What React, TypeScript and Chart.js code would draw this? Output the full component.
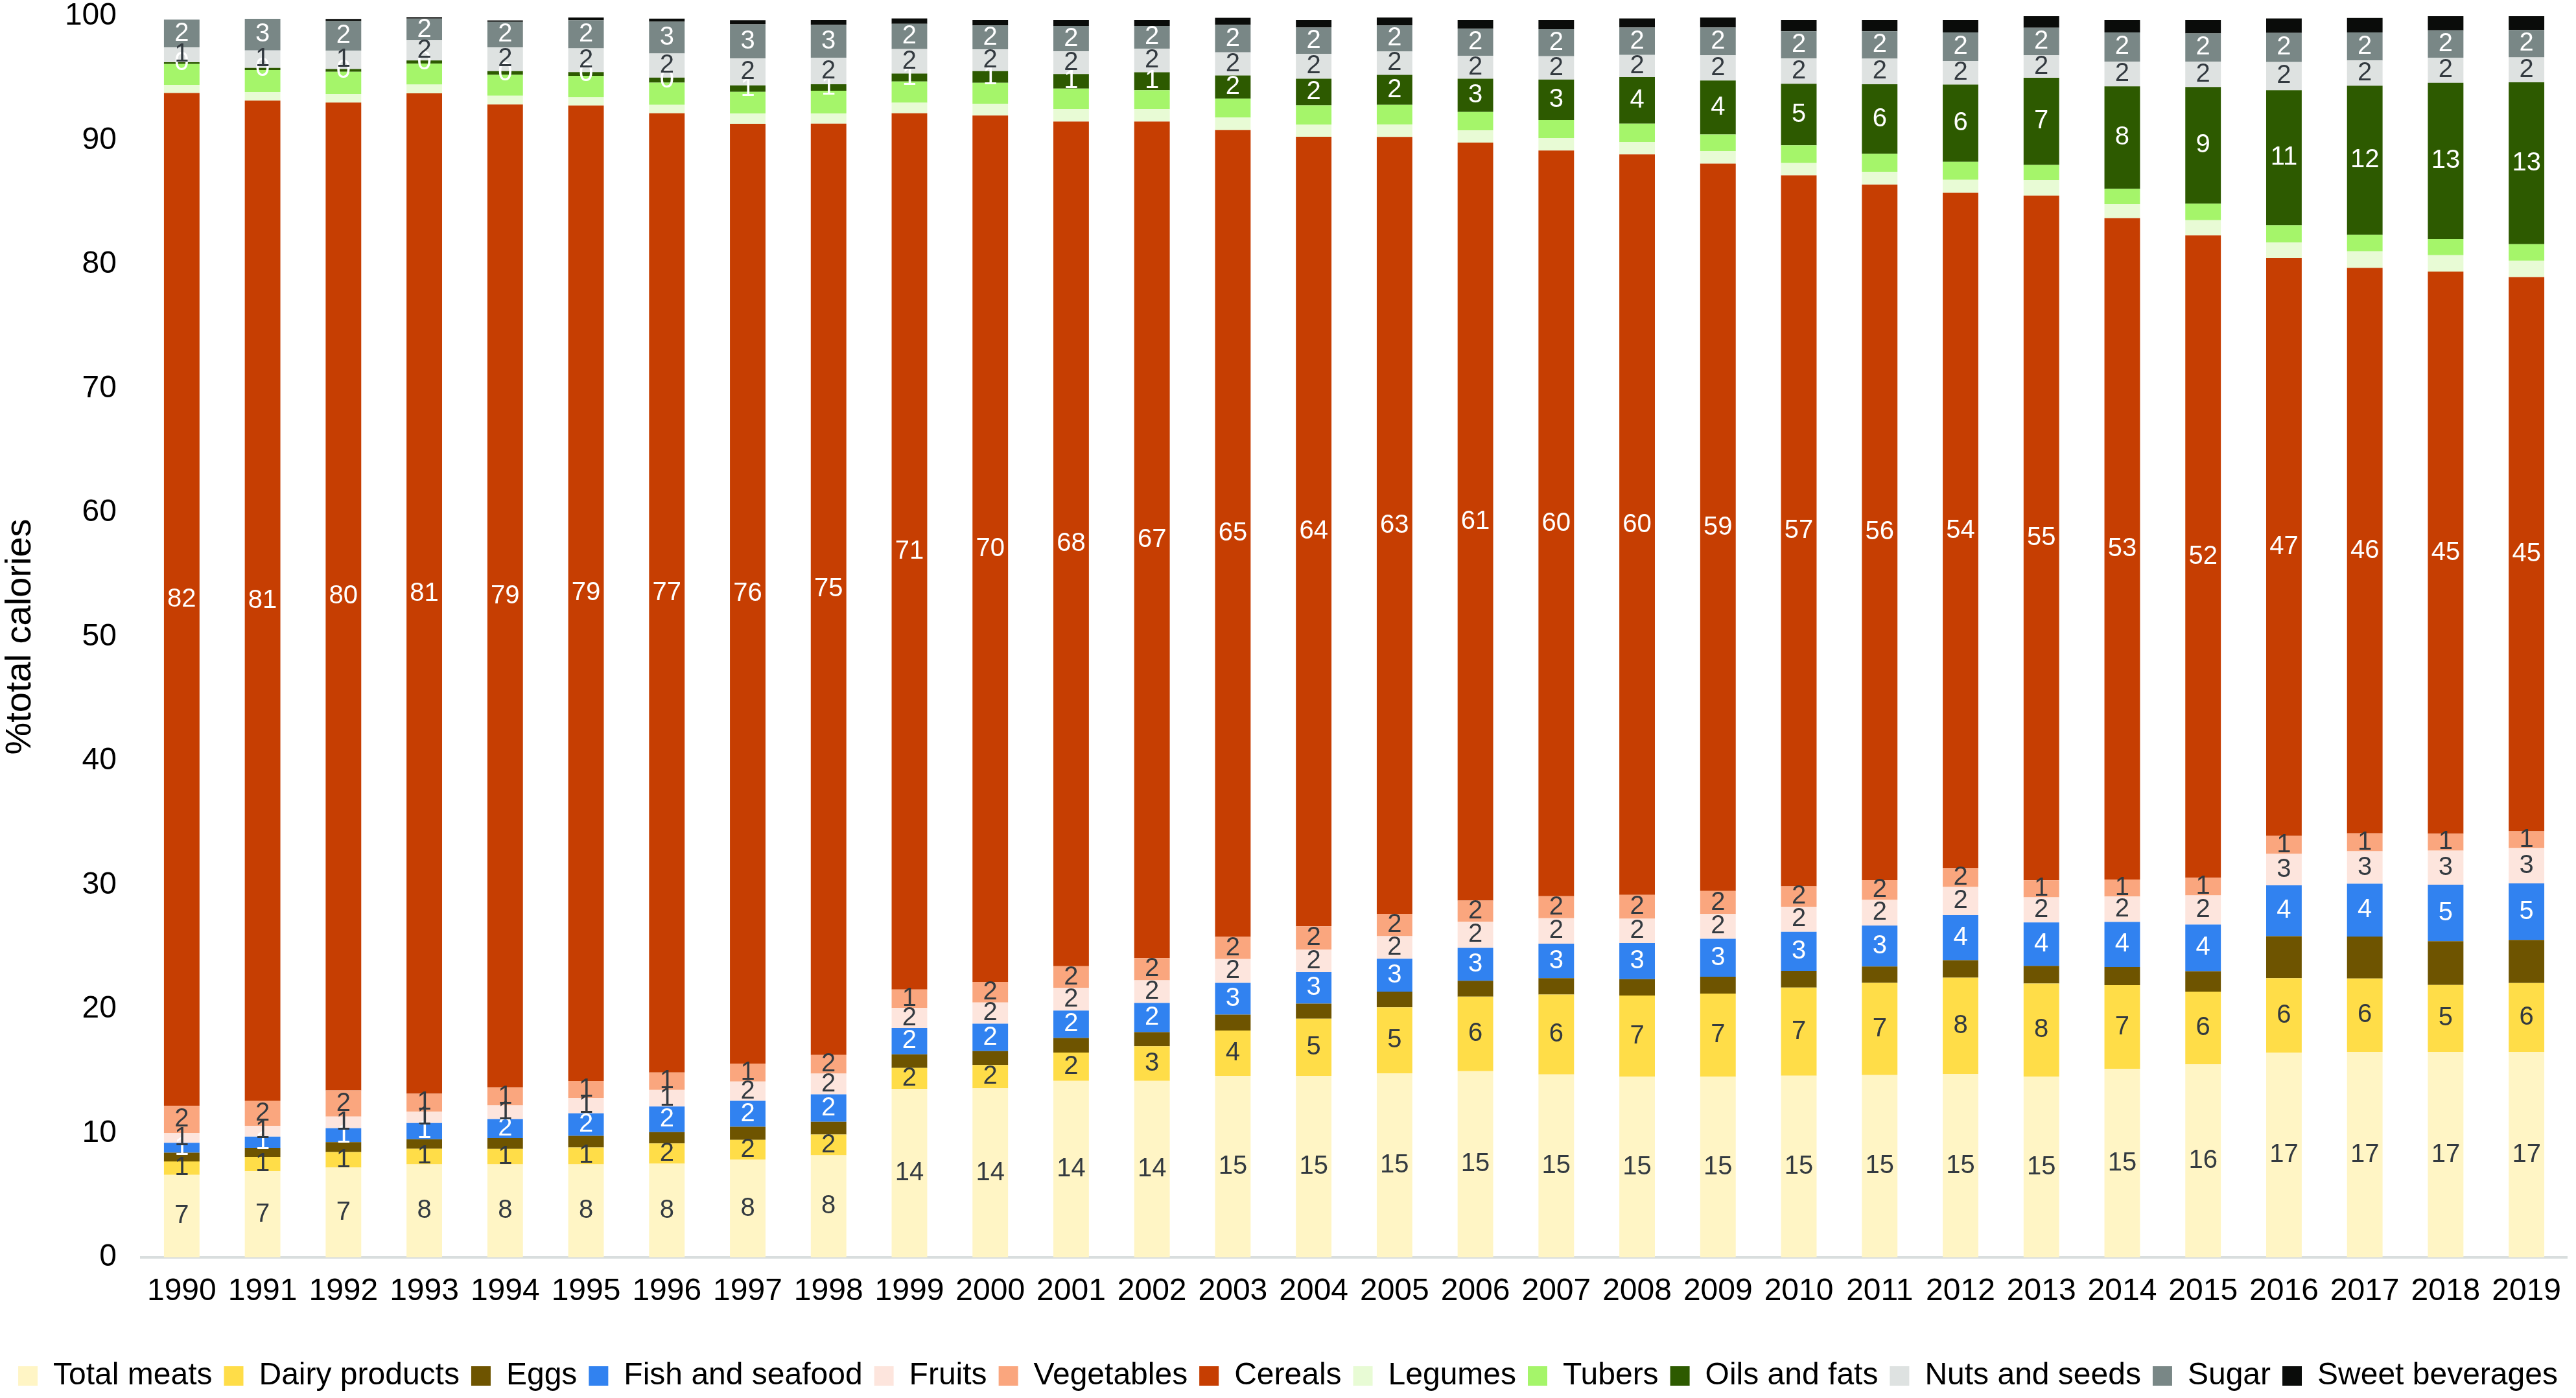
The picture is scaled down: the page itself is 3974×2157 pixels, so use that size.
import React, { useEffect, useRef } from "react";
import { Chart, registerables } from "chart.js";

Chart.register(...registerables);

const FONT = '"Liberation Sans", Arial, Helvetica, sans-serif';

const years = [
  "1990", "1991", "1992", "1993", "1994", "1995", "1996", "1997", "1998", "1999",
  "2000", "2001", "2002", "2003", "2004", "2005", "2006", "2007", "2008", "2009",
  "2010", "2011", "2012", "2013", "2014", "2015", "2016", "2017", "2018", "2019",
];

const seriesNames = [
  "Total meats", "Dairy products", "Eggs", "Fish and seafood", "Fruits", "Vegetables",
  "Cereals", "Legumes", "Tubers", "Oils and fats", "Nuts and seeds", "Sugar", "Sweet beverages",
];

const totalMeats = [6.65, 6.93, 7.23, 7.5, 7.5, 7.5, 7.55, 7.87, 8.22, 13.58, 13.61, 14.22, 14.22, 14.62, 14.62, 14.83, 15.0, 14.74, 14.55, 14.55, 14.64, 14.69, 14.78, 14.55, 15.19, 15.55, 16.5, 16.55, 16.55, 16.55];
const dairyProducts = [1.08, 1.17, 1.25, 1.25, 1.24, 1.35, 1.63, 1.59, 1.67, 1.68, 1.88, 2.28, 2.79, 3.66, 4.61, 5.31, 6.01, 6.44, 6.55, 6.7, 7.1, 7.42, 7.75, 7.51, 6.74, 5.86, 5.99, 5.92, 5.4, 5.55];
const eggs = [0.7, 0.73, 0.8, 0.77, 0.87, 0.94, 0.91, 1.06, 1.04, 1.1, 1.13, 1.17, 1.14, 1.28, 1.22, 1.27, 1.27, 1.31, 1.31, 1.36, 1.34, 1.32, 1.41, 1.43, 1.46, 1.65, 3.39, 3.38, 3.52, 3.48];
const fishSeafood = [0.8, 0.9, 1.12, 1.3, 1.53, 1.81, 2.07, 2.09, 2.2, 2.13, 2.21, 2.21, 2.35, 2.55, 2.53, 2.65, 2.66, 2.78, 2.91, 3.05, 3.15, 3.31, 3.63, 3.5, 3.63, 3.76, 4.09, 4.25, 4.55, 4.55];
const fruits = [0.78, 0.87, 0.94, 0.92, 1.1, 1.25, 1.32, 1.56, 1.67, 1.6, 1.71, 1.83, 1.83, 1.92, 1.82, 1.82, 2.11, 2.06, 1.96, 2.0, 2.02, 2.06, 2.27, 2.02, 2.05, 2.34, 2.54, 2.62, 2.75, 2.84];
const vegetables = [2.2, 2.0, 2.1, 1.45, 1.45, 1.36, 1.41, 1.45, 1.51, 1.49, 1.65, 1.75, 1.78, 1.79, 1.87, 1.8, 1.7, 1.77, 1.92, 1.86, 1.64, 1.59, 1.52, 1.37, 1.37, 1.43, 1.45, 1.45, 1.37, 1.37];
const cereals = [81.6, 80.6, 79.6, 80.6, 79.2, 78.6, 77.29, 75.71, 75.03, 70.6, 69.81, 68.05, 67.4, 65.0, 63.62, 62.6, 61.07, 60.08, 59.67, 58.6, 57.29, 56.04, 54.41, 55.17, 53.29, 51.75, 46.56, 45.55, 45.29, 44.64];
const legumes = [0.65, 0.69, 0.7, 0.7, 0.7, 0.66, 0.68, 0.83, 0.83, 0.85, 0.95, 1.01, 1.01, 1.01, 0.96, 1.0, 0.99, 0.99, 0.99, 1.01, 0.99, 1.04, 1.04, 1.22, 1.13, 1.22, 1.25, 1.34, 1.31, 1.31];
const tubers = [1.69, 1.78, 1.78, 1.69, 1.68, 1.72, 1.79, 1.74, 1.83, 1.71, 1.69, 1.65, 1.51, 1.53, 1.57, 1.58, 1.48, 1.48, 1.48, 1.34, 1.43, 1.45, 1.45, 1.25, 1.22, 1.34, 1.39, 1.33, 1.3, 1.34];
const oilsFats = [0.14, 0.17, 0.22, 0.26, 0.3, 0.31, 0.4, 0.52, 0.52, 0.64, 0.93, 1.17, 1.45, 1.86, 2.14, 2.42, 2.67, 3.25, 3.75, 4.35, 4.96, 5.6, 6.23, 7.02, 8.27, 9.4, 10.88, 12.01, 12.59, 13.05];
const nutsSeeds = [1.21, 1.4, 1.48, 1.62, 1.92, 1.92, 1.95, 2.18, 2.13, 1.97, 1.77, 1.83, 1.91, 1.87, 2.0, 1.88, 1.86, 1.88, 1.79, 2.04, 2.05, 2.06, 1.91, 1.82, 2.0, 2.05, 2.27, 2.03, 2.03, 2.0];
const sugar = [2.23, 2.55, 2.39, 1.74, 2.05, 2.26, 2.55, 2.75, 2.66, 2.04, 1.92, 2.05, 1.83, 2.22, 2.12, 2.09, 2.17, 2.18, 2.21, 2.22, 2.18, 2.21, 2.3, 2.21, 2.35, 2.26, 2.35, 2.27, 2.21, 2.21];
const sweetBeverages = [0, 0, 0.17, 0.12, 0.12, 0.21, 0.26, 0.33, 0.38, 0.43, 0.43, 0.47, 0.47, 0.56, 0.61, 0.64, 0.7, 0.73, 0.73, 0.82, 0.9, 0.9, 0.99, 0.96, 0.99, 1.08, 1.16, 1.16, 1.22, 1.22];

const seriesValues = [
  totalMeats, dairyProducts, eggs, fishSeafood, fruits, vegetables,
  cereals, legumes, tubers, oilsFats, nutsSeeds, sugar, sweetBeverages,
];

const seriesColors = [
  "rgb(255,245,197)", "rgb(255,221,72)", "rgb(110,84,0)", "rgb(49,130,240)",
  "rgb(253,229,221)", "rgb(250,166,126)", "rgb(198,62,2)", "rgb(232,251,213)",
  "rgb(165,245,106)", "rgb(45,90,0)", "rgb(222,226,225)", "rgb(121,135,134)", "rgb(10,12,10)",
];

const DARK = "rgb(51,58,64)";
const WHITE = "#ffffff";
// value-label colour for each series (null = no labels)
const labelColors = [DARK, DARK, null, WHITE, DARK, DARK, WHITE, null, null, WHITE, DARK, WHITE, null];

const yMin = 0;
const yMax = 100;
const yStep = 10;
const yTitle = "%total calories";

const segmentLabels = {
  id: "segmentLabels",
  afterDatasetsDraw(chart: any) {
    const ctx = chart.ctx;
    ctx.save();
    ctx.font = `40px ${FONT}`;
    ctx.textAlign = "center";
    ctx.textBaseline = "middle";
    chart.data.datasets.forEach((ds: any, i: number) => {
      const color = labelColors[i];
      if (!color) return;
      const meta = chart.getDatasetMeta(i);
      meta.data.forEach((el: any, j: number) => {
        const { x, y, base } = el.getProps(["x", "y", "base"], true);
        ctx.fillStyle = color;
        ctx.fillText(String(Math.round(ds.data[j])), x, (y + base) / 2);
      });
    });
    ctx.restore();
  },
};

export default function App() {
  const ref = useRef<HTMLCanvasElement | null>(null);

  useEffect(() => {
    if (!ref.current) return;
    const chart = new Chart(ref.current, {
      type: "bar",
      data: {
        labels: years,
        datasets: seriesNames.map((name, i) => ({
          label: name,
          data: seriesValues[i],
          backgroundColor: seriesColors[i],
          borderWidth: 0,
          barPercentage: 0.44,
          categoryPercentage: 1,
        })),
      },
      options: {
        responsive: false,
        animation: false,
        layout: { padding: { left: 0, right: 0, top: 25, bottom: 0 } },
        plugins: {
          legend: {
            position: "bottom",
            labels: {
              boxWidth: 30,
              boxHeight: 30,
              padding: 18,
              color: "#000",
              font: { size: 48, family: FONT },
            },
          },
          tooltip: { enabled: false },
        },
        scales: {
          x: {
            stacked: true,
            grid: { display: false, drawTicks: false },
            border: { display: true, color: "rgb(217,222,222)", width: 4 },
            ticks: {
              color: "#000",
              font: { size: 48, family: FONT },
              padding: 24,
              maxRotation: 0,
              autoSkip: false,
            },
            afterFit: (s: any) => {
              s.height = 141;
              s.paddingLeft = 0;
              s.paddingRight = 0;
            },
          },
          y: {
            stacked: true,
            min: yMin,
            max: yMax,
            ticks: {
              stepSize: yStep,
              color: "#000",
              font: { size: 48, family: FONT, lineHeight: 1 },
              padding: 38,
            },
            grid: { display: false, drawTicks: false },
            border: { display: false },
            title: {
              display: true,
              text: yTitle,
              color: "#000",
              font: { size: 56, family: FONT, lineHeight: 1 },
              padding: { top: 4, bottom: 40 },
            },
            afterFit: (s: any) => {
              s.width = 218;
              s.paddingTop = 0;
              s.paddingBottom = 0;
            },
          },
          yRight: {
            position: "right",
            display: true,
            min: 0,
            max: 1,
            ticks: { display: false },
            grid: { display: false, drawTicks: false },
            border: { display: false },
            afterFit: (s: any) => {
              s.width = 14;
              s.paddingTop = 0;
              s.paddingBottom = 0;
            },
          },
        },
      } as any,
      plugins: [segmentLabels],
    });
    return () => chart.destroy();
  }, []);

  return (
    <canvas
      ref={ref}
      width={3974}
      height={2157}
      style={{ position: "fixed", left: 0, top: 0, width: "3974px", height: "2157px", display: "block" }}
    />
  );
}
